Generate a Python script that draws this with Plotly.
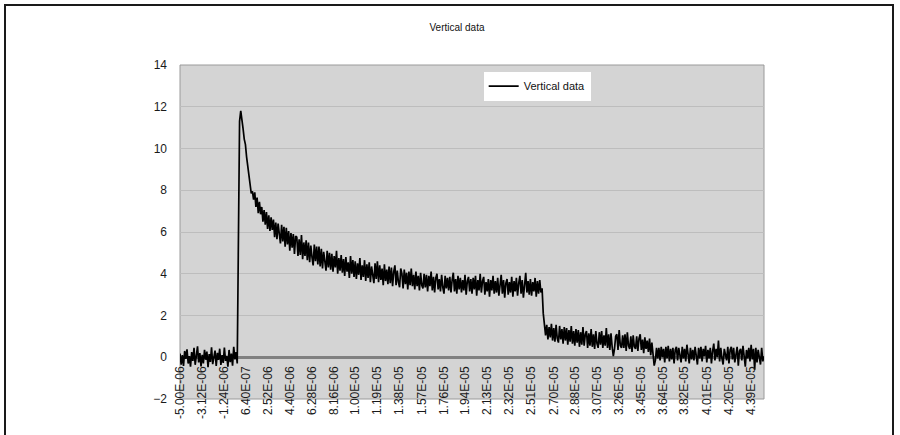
import plotly.graph_objects as go

# Scope capture: first sample time and sample interval (s)
t_start = -5.00e-06
t_step = 1.0e-07

# Vertical channel (one value per sample)
vertical = [
    # -5 .. 0 us (pre-trigger)
    0.18, -0.35, 0.10, -0.42, 0.30, -0.08, 0.38, -0.30, 0.05, -0.45,
    0.25, -0.18, 0.45, -0.36, 0.08, 0.52, -0.25, 0.20, -0.44, 0.12,
    -0.30, 0.36, -0.12, 0.27, -0.48, 0.15, -0.22, 0.48, -0.33, 0.03,
    0.32, -0.42, 0.21, -0.13, 0.41, -0.37, 0.10, -0.27, 0.46, -0.17,
    0.07, -0.45, 0.35, -0.23, 0.17, -0.40, 0.50, -0.10, 0.25, -0.30,
    # 0 .. 10 us
    6.40, 11.30, 11.80, 11.45, 10.95, 10.45, 10.20, 9.60, 9.10, 8.70,
    8.35, 7.85, 7.95, 7.55, 7.90, 7.20, 7.65, 6.90, 7.45, 6.85,
    7.20, 6.50, 7.05, 6.35, 6.95, 6.15, 6.80, 6.05, 6.70, 6.10,
    6.60, 5.75, 6.45, 5.65, 6.40, 5.80, 5.45, 6.35, 5.55, 6.25,
    5.30, 6.20, 5.40, 6.05, 5.10, 5.95, 5.25, 5.90, 4.95, 5.80,
    5.75, 4.85, 5.65, 4.90, 5.85, 4.70, 5.50, 4.85, 5.60, 4.65,
    5.50, 4.55, 5.35, 4.80, 4.40, 5.40, 4.60, 5.30, 4.45, 5.30,
    4.35, 5.20, 4.25, 5.05, 4.55, 4.15, 5.10, 4.30, 5.00, 4.20,
    4.95, 4.10, 4.85, 4.30, 5.10, 4.00, 4.75, 4.15, 4.90, 4.05,
    4.70, 3.90, 4.80, 4.10, 4.55, 3.80, 4.85, 4.00, 4.65, 3.85,
    # 10 .. 20 us
    4.60, 3.75, 4.50, 3.95, 4.75, 3.70, 4.40, 3.85, 4.65, 3.65,
    4.45, 3.80, 4.55, 3.60, 4.35, 3.90, 3.55, 4.50, 3.75, 4.60,
    3.60, 4.40, 3.70, 4.25, 3.45, 4.45, 3.65, 4.20, 3.50, 4.35,
    3.55, 4.30, 3.40, 4.10, 4.40, 3.45, 4.15, 3.60, 3.35, 4.25,
    4.00, 3.30, 4.20, 3.50, 4.05, 3.25, 4.10, 3.45, 4.25, 3.40,
    3.95, 3.25, 4.10, 3.40, 3.90, 3.20, 4.05, 3.45, 3.30, 4.00,
    3.35, 3.95, 3.15, 3.90, 3.40, 4.10, 3.20, 3.85, 3.10, 3.80,
    4.00, 3.25, 3.75, 3.15, 3.95, 3.35, 3.05, 3.90, 3.30, 3.80,
    3.20, 3.85, 3.10, 3.70, 4.05, 3.15, 3.75, 3.05, 3.90, 3.25,
    3.80, 3.10, 3.70, 3.20, 3.95, 3.00, 3.65, 3.85, 3.15, 3.75,
    # 20 .. 30 us
    3.05, 3.80, 3.25, 3.90, 2.95, 3.70, 3.20, 4.00, 3.10, 3.65,
    3.85, 3.00, 3.60, 3.15, 3.75, 2.90, 3.70, 3.20, 3.90, 3.05,
    3.65, 3.10, 3.80, 2.95, 3.60, 3.95, 3.05, 3.70, 2.85, 3.55,
    3.75, 3.00, 3.60, 3.10, 3.85, 2.90, 3.65, 3.15, 3.80, 2.95,
    3.55, 3.90, 3.05, 3.70, 2.85, 3.60, 4.05, 3.10, 3.65, 3.00,
    3.75, 2.95, 3.60, 3.15, 3.80, 2.90, 3.65, 3.05, 3.70, 3.10,
    3.30, 2.10, 1.35, 1.05, 1.55, 0.85, 1.45, 0.95, 1.60, 0.80,
    1.40, 0.75, 1.55, 0.90, 0.70, 1.50, 0.85, 1.35, 0.65, 1.45,
    0.80, 1.40, 0.60, 1.30, 0.75, 1.50, 0.65, 1.25, 0.55, 1.35,
    0.70, 1.30, 0.50, 1.20, 0.60, 1.45, 0.55, 1.10, 1.25, 0.45,
    # 30 .. 40 us
    1.15, 0.55, 1.35, 0.50, 1.10, 0.40, 1.25, 0.65, 0.45, 1.20,
    0.60, 1.25, 0.45, 1.05, 0.55, 1.40, 0.45, 1.10, 0.35, 1.15,
    0.50, 0.05, 0.40, 1.00, 1.10, 0.35, 1.30, 0.55, 0.45, 1.05,
    0.45, 1.10, 0.30, 1.20, 0.55, 0.40, 1.00, 0.25, 1.05, 0.50,
    0.40, 1.00, 0.30, 0.90, 1.10, 0.35, 0.85, 0.20, 0.95, 0.40,
    0.80, 0.25, 0.90, 0.10, 0.70, 0.00, -0.40, -0.15, 0.45, -0.05,
    0.45, -0.15, 0.50, 0.00, 0.40, -0.25, 0.50, -0.05, 0.55, -0.20,
    0.40, -0.10, 0.45, -0.30, 0.35, 0.50, -0.15, 0.45, 0.00, -0.25,
    0.50, -0.05, 0.40, -0.20, 0.60, 0.05, -0.30, 0.45, -0.10, 0.35,
    -0.15, 0.50, 0.00, -0.35, 0.45, -0.05, 0.50, -0.20, 0.40, 0.05,
    # 40 .. 45 us
    0.55, -0.25, 0.35, -0.05, 0.45, -0.30, 0.30, 0.65, -0.15, 0.40,
    0.00, 0.80, -0.20, 0.45, -0.05, -0.35, 0.40, 0.05, -0.15, 0.50,
    -0.30, 0.35, 0.50, -0.10, 0.45, -0.25, 0.25, 0.50, -0.40, 0.30,
    0.40, -0.15, 0.55, 0.00, -0.45, 0.35, -0.05, 0.45, -0.20, 0.60,
    -0.10, 0.40, -0.60, 0.45, -0.25, 0.35, -0.05, -0.35, 0.45, -0.20,
    0.05,
]

# Category labels Excel printed along the time axis
time_labels = [
    "-5.00E-06", "-3.12E-06", "-1.24E-06", "6.40E-07", "2.52E-06", "4.40E-06",
    "6.28E-06", "8.16E-06", "1.00E-05", "1.19E-05", "1.38E-05", "1.57E-05",
    "1.76E-05", "1.94E-05", "2.13E-05", "2.32E-05", "2.51E-05", "2.70E-05",
    "2.88E-05", "3.07E-05", "3.26E-05", "3.45E-05", "3.64E-05", "3.82E-05",
    "4.01E-05", "4.20E-05", "4.39E-05",
]
y_ticks = [-2, 0, 2, 4, 6, 8, 10, 12, 14]

FONT = "Liberation Sans, Arial, sans-serif"
t_end = t_start + t_step * (len(vertical) - 1)

fig = go.Figure()

fig.add_trace(go.Scatter(
    y=vertical,
    x0=t_start,
    dx=t_step,
    mode="lines",
    line=dict(color="#000000", width=1.7),
    name="Vertical data",
    hoverinfo="skip",
))

# y = 0 sits 42 px above the bottom of a 334 px tall plot area
zero_pos = 42 / 334

fig.update_layout(
    width=900,
    height=435,
    autosize=False,
    margin=dict(l=180, r=136, t=65, b=36),
    paper_bgcolor="white",
    plot_bgcolor="#d4d4d4",
    font=dict(family=FONT, color="#1a1a1a"),
    title=dict(
        text="Vertical data",
        font=dict(size=10, family=FONT, color="#111111"),
        x=457 / 900, xref="container", xanchor="center",
        y=1 - 27 / 435, yref="container", yanchor="middle",
    ),
    showlegend=True,
    legend=dict(
        x=0.52, y=0.98, xanchor="left", yanchor="top",
        bgcolor="white", borderwidth=0,
        font=dict(size=11, family=FONT, color="#111111"),
        itemwidth=30,
    ),
    xaxis=dict(
        range=[t_start, t_end],
        anchor="free",
        position=zero_pos,
        tickmode="array",
        tickvals=[float(s) for s in time_labels],
        ticktext=time_labels,
        tickangle=-90,
        tickfont=dict(size=12, family=FONT, color="#1a1a1a"),
        showgrid=False,
        zeroline=False,
        showline=False,
        ticks="",
        ticklabelstandoff=6,
    ),
    yaxis=dict(
        range=[-2, 14],
        tickmode="array",
        tickvals=y_ticks,
        tickfont=dict(size=12, family=FONT, color="#1a1a1a"),
        showgrid=True,
        gridcolor="#bdbdbd",
        gridwidth=1,
        zeroline=True,
        zerolinecolor="#808080",
        zerolinewidth=3,
        showline=False,
        ticks="",
        ticklabelstandoff=12,
    ),
    shapes=[
        # plot area border
        dict(type="rect", xref="paper", yref="paper", x0=0, x1=1, y0=0, y1=1,
             line=dict(color="#9a9a9a", width=1), layer="below"),
        # chart frame
        dict(type="rect", xref="paper", yref="paper",
             x0=(5 - 180) / 584, x1=(893 - 180) / 584,
             y0=(399 - 445) / 334, y1=1 + 60 / 334,
             line=dict(color="#1a1a1a", width=2)),
    ],
)

# drop the page's default 8px body margin so the figure sits at the window corner
fig.write_html(
    "out.html",
    config={"displayModeBar": False},
    post_script="document.body.style.margin='0';",
)
